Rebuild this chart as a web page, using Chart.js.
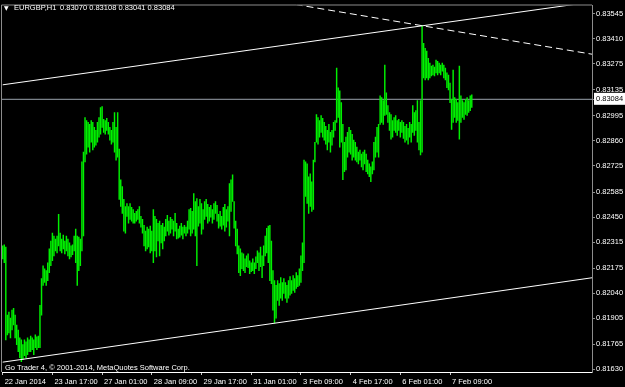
<!DOCTYPE html>
<html>
<head>
<meta charset="utf-8">
<script src="https://cdn.jsdelivr.net/npm/chart.js@4.4.1/dist/chart.umd.min.js"></script>
<style>
html,body{margin:0;padding:0;background:#000;}
#wrap{position:relative;width:625px;height:387px;overflow:hidden;background:#000;}
canvas{position:absolute;left:0;top:0;}
.txt{position:absolute;color:#fff;font-family:"Liberation Sans",Arial,sans-serif;font-size:7.5px;white-space:pre;line-height:7px;}
</style>
</head>
<body>
<div id="wrap">
<canvas id="c" width="625" height="387"></canvas>
<div class="txt" id="tri" style="left:4px;top:4px;font-size:6px;font-family:'DejaVu Sans',sans-serif;">&#9660;</div>
<div class="txt" id="sym" style="left:14px;top:4px;"></div>
<div class="txt" id="vals" style="left:60px;top:4px;"></div>
<div class="txt" id="foot" style="left:5px;top:364px;"></div>
</div>
<script>
// ---- data ----
const symbolName = 'EURGBP,H1';
const lastBar = [0.83070, 0.83108, 0.83041, 0.83084]; // open high low close
const bidPrice = 0.83084;
const footerText = 'Go Trader 4, \u00A9 2001-2014, MetaQuotes Software Corp.';

const highs = [
0.82295,0.82300,0.82289,0.81922,0.81938,0.81906,0.81949,0.81959,0.81922,0.81869,
0.81842,0.81800,0.81789,0.81763,0.81789,0.81779,0.81800,0.81789,0.81810,0.81800,
0.81789,0.81816,0.81805,0.81810,0.81975,0.82119,0.82188,0.82172,0.82162,0.82204,
0.82279,0.82321,0.82364,0.82348,0.82332,0.82348,0.82465,0.82364,0.82332,0.82353,
0.82321,0.82348,0.82332,0.82311,0.82295,0.82300,0.82348,0.82385,0.82348,0.82342,
0.82332,0.82747,0.82800,0.82986,0.82970,0.82960,0.82949,0.82970,0.82960,0.82933,
0.82917,0.82960,0.82986,0.83039,0.83045,0.82976,0.82970,0.82981,0.82960,0.82933,
0.82917,0.82960,0.83013,0.82933,0.83013,0.82816,0.82651,0.82614,0.82545,0.82507,
0.82523,0.82507,0.82523,0.82502,0.82491,0.82470,0.82481,0.82491,0.82507,0.82454,
0.82438,0.82406,0.82374,0.82396,0.82385,0.82401,0.82374,0.82491,0.82454,0.82438,
0.82417,0.82428,0.82406,0.82417,0.82396,0.82438,0.82460,0.82428,0.82449,0.82438,
0.82428,0.82470,0.82417,0.82385,0.82401,0.82417,0.82396,0.82406,0.82396,0.82428,
0.82491,0.82497,0.82481,0.82577,0.82534,0.82550,0.82507,0.82545,0.82523,0.82491,
0.82534,0.82545,0.82518,0.82502,0.82513,0.82491,0.82523,0.82534,0.82513,0.82465,
0.82481,0.82454,0.82502,0.82518,0.82491,0.82507,0.82630,0.82651,0.82678,0.82534,
0.82428,0.82385,0.82295,0.82279,0.82257,0.82252,0.82225,0.82241,0.82252,0.82215,
0.82204,0.82225,0.82204,0.82236,0.82268,0.82257,0.82289,0.82241,0.82295,0.82348,
0.82390,0.82401,0.82406,0.82321,0.82162,0.82108,0.82082,0.82108,0.82092,0.82124,
0.82098,0.82119,0.82098,0.82082,0.82108,0.82130,0.82108,0.82135,0.82119,0.82151,
0.82135,0.82172,0.82241,0.82311,0.82757,0.82747,0.82736,0.82667,0.82683,0.82640,
0.82757,0.82853,0.83002,0.82986,0.82970,0.82997,0.82981,0.82960,0.82938,0.82917,
0.82949,0.82906,0.82917,0.82960,0.82970,0.83252,0.83146,0.83130,0.83066,0.82949,
0.82853,0.82880,0.82906,0.82933,0.82917,0.82896,0.82864,0.82853,0.82827,0.82800,
0.82811,0.82789,0.82800,0.82811,0.82789,0.82757,0.82736,0.82720,0.82747,0.82853,
0.82880,0.82933,0.82949,0.83103,0.83093,0.83077,0.83268,0.83119,0.83050,0.83013,
0.83002,0.82970,0.82986,0.82997,0.82970,0.82976,0.82960,0.82970,0.82960,0.82938,
0.82949,0.82928,0.82960,0.82949,0.83050,0.83013,0.83023,0.83077,0.82960,0.83077,
0.83481,0.83385,0.83359,0.83343,0.83305,0.83279,0.83263,0.83268,0.83258,0.83295,
0.83289,0.83279,0.83268,0.83279,0.83268,0.83252,0.83226,0.83215,0.83172,0.83082,
0.83242,0.83093,0.83082,0.83066,0.83263,0.83103,0.83077,0.83066,0.83082,0.83093,
0.83077,0.83103,0.83108
];
const lows = [
0.82225,0.82204,0.81789,0.81816,0.81826,0.81800,0.81842,0.81869,0.81800,0.81763,
0.81725,0.81693,0.81672,0.81683,0.81704,0.81693,0.81709,0.81725,0.81725,0.81736,
0.81709,0.81747,0.81736,0.81747,0.81747,0.81922,0.82082,0.82098,0.82082,0.82108,
0.82151,0.82188,0.82215,0.82241,0.82268,0.82257,0.82295,0.82268,0.82257,0.82279,
0.82252,0.82268,0.82241,0.82225,0.82236,0.82247,0.82268,0.82204,0.82082,0.82162,
0.82188,0.82268,0.82348,0.82747,0.82789,0.82827,0.82800,0.82853,0.82811,0.82827,
0.82837,0.82853,0.82880,0.82896,0.82933,0.82906,0.82896,0.82917,0.82896,0.82864,
0.82843,0.82853,0.82800,0.82757,0.82773,0.82545,0.82507,0.82470,0.82374,0.82364,
0.82454,0.82417,0.82438,0.82428,0.82417,0.82417,0.82428,0.82438,0.82417,0.82396,
0.82364,0.82295,0.82268,0.82279,0.82289,0.82257,0.82268,0.82204,0.82268,0.82236,
0.82321,0.82241,0.82311,0.82279,0.82321,0.82348,0.82374,0.82353,0.82364,0.82385,
0.82348,0.82374,0.82332,0.82337,0.82342,0.82353,0.82332,0.82364,0.82348,0.82364,
0.82385,0.82348,0.82364,0.82385,0.82348,0.82188,0.82401,0.82417,0.82358,0.82385,
0.82438,0.82454,0.82417,0.82428,0.82449,0.82417,0.82438,0.82470,0.82428,0.82390,
0.82401,0.82385,0.82406,0.82374,0.82396,0.82428,0.82348,0.82481,0.82534,0.82390,
0.82295,0.82252,0.82151,0.82135,0.82172,0.82162,0.82151,0.82183,0.82178,0.82146,
0.82156,0.82162,0.82146,0.82172,0.82204,0.82162,0.82183,0.82124,0.82188,0.82241,
0.82257,0.82204,0.82108,0.82092,0.81949,0.81880,0.81906,0.82002,0.81975,0.82013,
0.82002,0.82039,0.82013,0.81991,0.82013,0.82029,0.82039,0.82055,0.82045,0.82066,
0.82076,0.82082,0.82098,0.82162,0.82204,0.82561,0.82523,0.82470,0.82507,0.82481,
0.82491,0.82747,0.82853,0.82843,0.82880,0.82906,0.82880,0.82864,0.82843,0.82811,
0.82853,0.82800,0.82837,0.82880,0.82917,0.82960,0.82986,0.82827,0.82853,0.82651,
0.82694,0.82704,0.82773,0.82800,0.82789,0.82757,0.82773,0.82757,0.82747,0.82736,
0.82757,0.82720,0.82704,0.82736,0.82694,0.82683,0.82667,0.82640,0.82683,0.82704,
0.82773,0.82800,0.82773,0.82949,0.82960,0.82949,0.82997,0.83002,0.82960,0.82917,
0.82869,0.82880,0.82917,0.82906,0.82890,0.82917,0.82880,0.82906,0.82874,0.82853,
0.82864,0.82843,0.82880,0.82853,0.82906,0.82890,0.82917,0.82853,0.82811,0.82784,
0.82800,0.83199,0.83188,0.83199,0.83188,0.83199,0.83210,0.83215,0.83210,0.83226,
0.83215,0.83226,0.83215,0.83236,0.83199,0.83188,0.83146,0.83135,0.83066,0.82922,
0.82960,0.82986,0.82960,0.82970,0.82869,0.82960,0.82986,0.82976,0.83002,0.82997,
0.83013,0.83023,0.83041
];

// time axis labels (bar index -> label)
const timeTickIdx = [0, 32, 64, 96, 128, 160, 192, 224, 256, 288];
const timeLabels = ['22 Jan 2014','23 Jan 17:00','27 Jan 01:00','28 Jan 09:00','29 Jan 17:00',
                    '31 Jan 01:00','3 Feb 09:00','4 Feb 17:00','6 Feb 01:00','7 Feb 09:00'];
// price axis labels
const priceTicks = [0.83545,0.83410,0.83275,0.83135,0.82995,0.82860,0.82725,0.82585,
                    0.82450,0.82315,0.82175,0.82040,0.81905,0.81765,0.81630];

// trend lines: (bar index, price) anchor points
const lineIdx = [0, 380];
const trendUpper = [0.83162, 0.83609];
const trendDashed = [0.83859, 0.83326];
const trendLower = [0.81669, 0.82124];

// visible window
const xMin = -0.45, xMax = 379.4;
const yMin = 0.81616, yMax = 0.83589;

// ---- text ----
document.getElementById('sym').textContent = symbolName;
document.getElementById('vals').textContent = lastBar.map(v => v.toFixed(5)).join(' ');
document.getElementById('foot').textContent = footerText;

const FONT = '"Liberation Sans", Arial, sans-serif';
const isBid = c => c.tick && Math.abs(c.tick.value - bidPrice) < 1e-9;

const framePlugin = {
  id: 'frame',
  afterDraw(chart) {
    const {ctx, chartArea: a} = chart;
    ctx.save();
    ctx.strokeStyle = '#8c8c8c';
    ctx.lineWidth = 1;
    ctx.beginPath();
    ctx.moveTo(a.left - 0.5, a.bottom);
    ctx.lineTo(a.left - 0.5, a.top - 0.5);
    ctx.lineTo(a.right, a.top - 0.5);
    ctx.stroke();
    ctx.restore();
  }
};

const lineDs = (vals, extra) => Object.assign({
  type: 'line',
  data: lineIdx.map((x, k) => ({x, y: vals[k]})),
  borderColor: '#ffffff', borderWidth: 1, pointRadius: 0, fill: false, order: 1
}, extra || {});

new Chart(document.getElementById('c'), {
  type: 'bar',
  data: {
    datasets: [
      lineDs(trendUpper),
      lineDs(trendDashed, {borderDash: [7, 4]}),
      lineDs(trendLower),
      {
        type: 'line',
        data: [{x: xMin, y: bidPrice}, {x: xMax, y: bidPrice}],
        borderColor: '#9aa2ac', borderWidth: 1, pointRadius: 0, order: 3
      },
      {
        type: 'bar',
        data: highs.map((h, k) => ({x: k, y: [lows[k], h]})),
        backgroundColor: '#00f000', borderWidth: 0, barThickness: 0.8, order: 2
      }
    ]
  },
  options: {
    responsive: false,
    animation: false,
    layout: {padding: {left: 2, top: 2, right: 0, bottom: 0}},
    plugins: {legend: {display: false}, tooltip: {enabled: false}},
    scales: {
      x: {
        type: 'linear', min: xMin, max: xMax, offset: false, position: 'bottom',
        afterBuildTicks: s => { s.ticks = timeTickIdx.map(v => ({value: v})); },
        afterFit: s => { s.height = 15; },
        grid: {drawOnChartArea: false, drawTicks: true, tickLength: 3, color: '#c8c8c8', offset: false},
        border: {color: '#ffffff', width: 1},
        ticks: {
          autoSkip: false, maxRotation: 0, minRotation: 0, align: 'start', labelOffset: 2, padding: 2,
          color: '#ffffff', font: {family: FONT, size: 7.5},
          callback: v => timeLabels[timeTickIdx.indexOf(v)]
        }
      },
      y: {
        type: 'linear', position: 'right', min: yMin, max: yMax,
        afterBuildTicks: s => { s.ticks = priceTicks.concat([bidPrice]).map(v => ({value: v})); },
        afterFit: s => { s.width = 33; },
        grid: {drawOnChartArea: false, drawTicks: true, tickLength: 3, color: '#8c8c8c'},
        border: {color: '#8c8c8c', width: 1},
        ticks: {
          autoSkip: false, padding: 1,
          font: {family: FONT, size: 7.5},
          color: c => isBid(c) ? '#000000' : '#ffffff',
          showLabelBackdrop: c => isBid(c),
          backdropColor: c => isBid(c) ? '#ffffff' : 'rgba(0,0,0,0)',
          backdropPadding: {top: 2, bottom: 1, left: 2, right: 6},
          callback: v => v.toFixed(5)
        }
      }
    }
  },
  plugins: [framePlugin]
});
</script>
</body>
</html>
